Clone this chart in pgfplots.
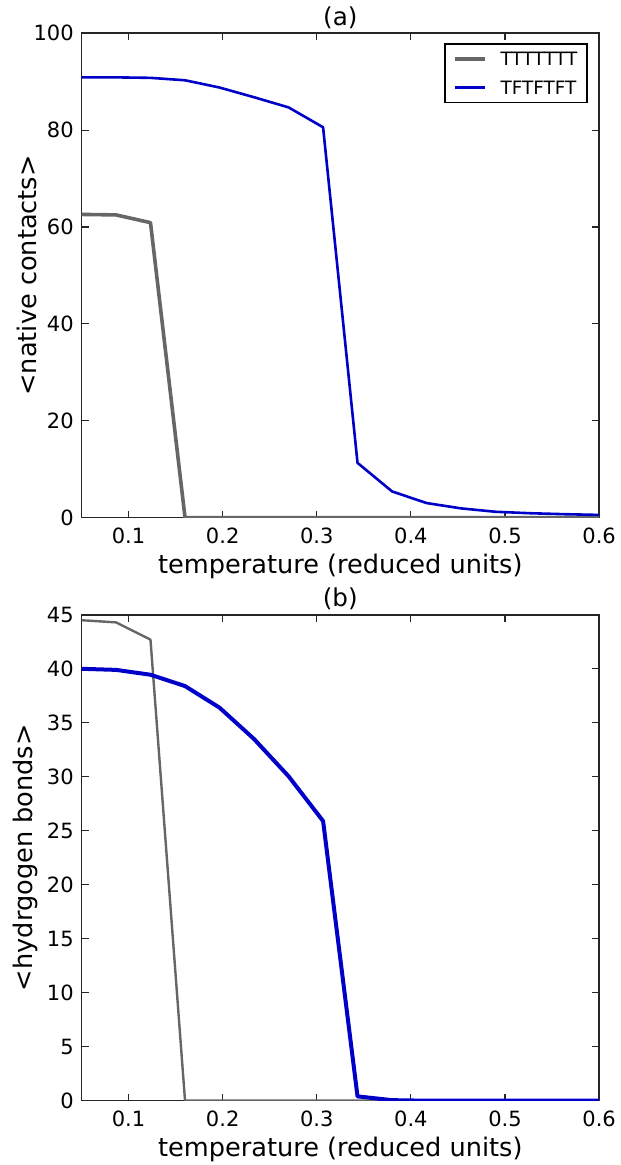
\documentclass[border=0pt]{standalone}
\usepackage{pgfplots}
\pgfplotsset{compat=1.18}
\usepackage{fontspec}
\setmainfont{DejaVu Sans}
\definecolor{cgray}{RGB}{102,102,102}
\definecolor{cblue}{RGB}{0,0,200}
\pgfplotsset{
  myax/.style={
    scale only axis, width=258.75pt,
    xmin=0.05, xmax=0.6,
    xtick={0.1,0.2,0.3,0.4,0.5,0.6},
    xticklabels={0.1,0.2,0.3,0.4,0.5,0.6},
    tick align=inside, major tick length=3.5pt,
    axis line style={line width=0.8pt, black!85},
    tick style={black!85, line width=0.6pt},
    /pgf/number format/assume math mode=true,
    ticklabel style={font=\fontsize{10.5}{12}\selectfont},
    xticklabel style={anchor=center, yshift=-8.9pt},
    yticklabel style={inner sep=0pt, xshift=-3.7pt},
    label style={font=\fontsize{12.8}{15}\selectfont},
    every axis title shift=0pt,
    title style={font=\fontsize{12.3}{14}\selectfont, at={(0.5,1)}, anchor=center, yshift=8pt},
    xlabel={temperature (reduced units)},
    xlabel style={at={(axis description cs:0.5,0)}, anchor=center, yshift=-24.5pt},
    every axis plot/.append style={line join=round, mark=none},
  }
}
\begin{document}
\begin{tikzpicture}
\begin{axis}[myax, at={(0,0)}, anchor=south west, height=242.1pt,
  ymin=0, ymax=100, ytick={0,20,40,60,80,100},
  title={(a)},
  ylabel={<native contacts>},
  ylabel style={at={(axis description cs:-0.106,0.5)}, anchor=center},
  legend style={at={(axis description cs:1,1)}, anchor=north east, xshift=-5.5pt, yshift=-5pt,
    draw=black, line width=0.8pt, font=\fontsize{9.2}{10}\selectfont,
    inner xsep=4pt, inner ysep=3pt, row sep=5.5pt,
    nodes={inner sep=1pt, text height=6.8pt, text depth=0pt},
    /tikz/every odd column/.append style={column sep=6pt}},
  legend cell align=left,
  legend image code/.code={\draw[#1] (0pt,0pt) -- (15pt,0pt);},
]
\addplot[cgray, line width=1.8pt] coordinates {
(0.05,62.6) (0.0867,62.5) (0.1233,60.9) (0.16,0) (0.1967,0) (0.2333,0) (0.27,0) (0.3067,0)
(0.3433,0) (0.38,0) (0.4167,0) (0.4533,0) (0.49,0) (0.5267,0) (0.5633,0) (0.6,0)};
\addlegendentry{TTTTTTT}
\addplot[cblue, line width=1.3pt] coordinates {
(0.05,90.9) (0.0867,90.9) (0.1233,90.8) (0.16,90.3) (0.1967,88.8) (0.2333,86.8) (0.27,84.7) (0.3067,80.6)
(0.3433,11.3) (0.38,5.4) (0.4167,3.0) (0.4533,1.9) (0.49,1.2) (0.5267,0.9) (0.5633,0.7) (0.6,0.55)};
\addlegendentry{TFTFTFT}
\end{axis}
\begin{axis}[myax, at={(0,-291.5pt)}, anchor=south west, height=242.9pt,
  ymin=0, ymax=45, ytick={0,5,10,15,20,25,30,35,40,45},
  title={(b)},
  ylabel={<hydrgogen bonds>},
  ylabel style={at={(axis description cs:-0.108,0.5)}, anchor=center},
]
\addplot[cgray, line width=1.2pt] coordinates {
(0.05,44.5) (0.0867,44.3) (0.1233,42.7) (0.16,0) (0.1967,0) (0.2333,0) (0.27,0) (0.3067,0)
(0.3433,0) (0.38,0) (0.4167,0) (0.4533,0) (0.49,0) (0.5267,0) (0.5633,0) (0.6,0)};
\addplot[cblue, line width=2pt] coordinates {
(0.05,40.0) (0.0867,39.9) (0.1233,39.45) (0.16,38.4) (0.1967,36.4) (0.2333,33.5) (0.27,30.05) (0.3067,25.9)
(0.3433,0.4) (0.38,0.05) (0.4167,0) (0.4533,0) (0.49,0) (0.5267,0) (0.5633,0) (0.6,0)};
\end{axis}
\pgfresetboundingbox
\path[use as bounding box] (-40.75pt,-323.65pt) rectangle (269.25pt,258.75pt);
\end{tikzpicture}
\end{document}
